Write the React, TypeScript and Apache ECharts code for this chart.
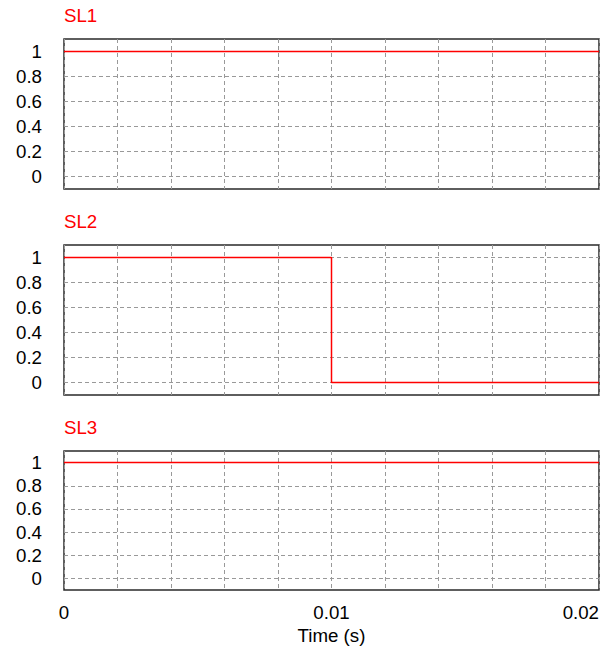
import React, { useEffect, useRef } from "react";
import * as echarts from "echarts";

const panelTitles = ["SL1", "SL2", "SL3"];
const sl1Data: [number, number][] = [[0, 1], [0.02, 1]];
const sl2Data: [number, number][] = [[0, 1], [0.01, 1], [0.01, 0], [0.02, 0]];
const sl3Data: [number, number][] = [[0, 1], [0.02, 1]];
const yTickValues = [0, 0.2, 0.4, 0.6, 0.8, 1];
const xLabelValues = [0, 0.01, 0.02];
const xName = "Time (s)";

const FONT = "'Liberation Sans', Arial, sans-serif";
const FS = 18.7;

export default function App() {
  const ref = useRef<HTMLDivElement>(null);
  useEffect(() => {
    if (!ref.current) return;
    const chart = echarts.init(ref.current, undefined, { renderer: "svg" });
    const seriesData = [sl1Data, sl2Data, sl3Data];
    const grids = [
      { left: 64, top: 39, width: 535, height: 150 },
      { left: 64, top: 245, width: 535, height: 150 },
      { left: 64, top: 451, width: 535, height: 139 },
    ];
    const titleTops = [6, 212, 418];
    const isLabel = (v: number) =>
      xLabelValues.some((t) => Math.abs(t - v) < 1e-9);
    chart.setOption({
      animation: false,
      backgroundColor: "#fff",
      title: panelTitles.map((t, i) => ({
        text: t,
        left: 64,
        top: titleTops[i],
        padding: 0,
        textStyle: { color: "#ff0000", fontSize: FS, fontWeight: "normal", fontFamily: FONT },
      })),
      grid: grids.map((g) => ({
        ...g,
        show: true,
        borderColor: "#2a2a2a",
        borderWidth: 1.5,
        backgroundColor: "transparent",
      })),
      xAxis: grids.map((_, i) => ({
        type: "value",
        gridIndex: i,
        min: 0,
        max: 0.02,
        interval: 0.002,
        axisLine: { show: false },
        axisTick: { show: false },
        splitLine: { show: true, lineStyle: { color: "#999", type: [4, 3], width: 1 } },
        axisLabel: {
          show: i === 2,
          margin: 13,
          color: "#000",
          fontSize: FS,
          fontFamily: FONT,
          alignMaxLabel: "right",
          formatter: (v: number) => (isLabel(v) ? String(Math.round(v * 100) / 100) : ""),
        },
        name: i === 2 ? xName : "",
        nameLocation: "middle",
        nameGap: 36,
        nameTextStyle: { color: "#000", fontSize: FS, fontFamily: FONT },
      })),
      yAxis: grids.map((_, i) => ({
        type: "value",
        gridIndex: i,
        min: -0.1,
        max: 1.1,
        axisLine: { show: false },
        axisTick: { show: false, customValues: yTickValues },
        splitLine: { show: true, lineStyle: { color: "#999", type: [4, 3], width: 1 } },
        axisLabel: {
          customValues: yTickValues,
          margin: 22,
          color: "#000",
          fontSize: FS,
          fontFamily: FONT,
          formatter: (v: number) => String(v),
        },
      })),
      series: seriesData.map((d, i) => ({
        type: "line",
        xAxisIndex: i,
        yAxisIndex: i,
        data: d,
        symbol: "none",
        lineStyle: { color: "#ff0000", width: 1.5 },
        z: 5,
      })),
    });
    return () => chart.dispose();
  }, []);
  return (
    <div
      ref={ref}
      style={{ position: "fixed", left: 0, top: 0, width: 613, height: 648, background: "#fff" }}
    />
  );
}
